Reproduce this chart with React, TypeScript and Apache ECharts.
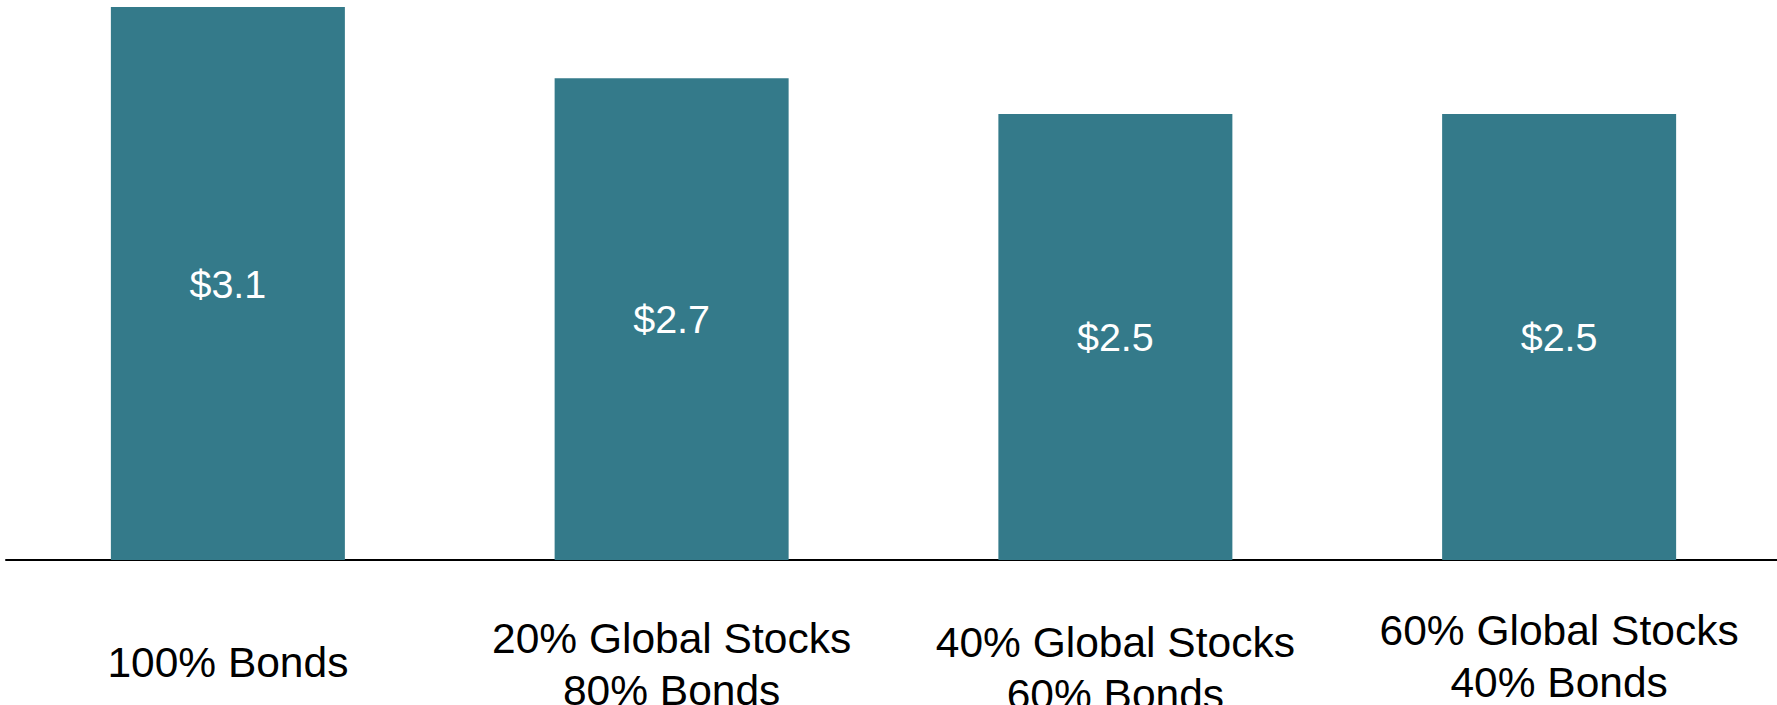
import React, { useEffect, useRef } from "react";
import * as echarts from "echarts";

const categories = [
  "100% Bonds",
  "20% Global Stocks\n80% Bonds",
  "40% Global Stocks\n60% Bonds",
  "60% Global Stocks\n40% Bonds",
];
const values = [3.1, 2.7, 2.5, 2.5];
const labelOffsets = [32, 8, 12, 0];

export default function App() {
  const ref = useRef<HTMLDivElement>(null);
  useEffect(() => {
    if (!ref.current) return;
    const chart = echarts.init(ref.current, undefined, { renderer: "svg" });
    const font = "'Liberation Sans', Arial, sans-serif";
    chart.setOption({
      animation: false,
      backgroundColor: "#ffffff",
      grid: {
        left: 6,
        top: 7,
        width: 1775,
        height: 553,
        containLabel: false,
        outerBoundsMode: "none",
      },
      xAxis: {
        type: "category",
        data: categories.map((c, i) => ({
          value: c,
          textStyle: { padding: [labelOffsets[i], 0, 0, 0] },
        })),
        axisLine: { show: true, lineStyle: { color: "#000000", width: 2 } },
        axisTick: { show: false },
        axisLabel: {
          interval: 0,
          margin: 44,
          color: "#000000",
          fontSize: 42.5,
          lineHeight: 52,
          fontFamily: font,
          align: "center",
        },
      },
      yAxis: {
        type: "value",
        min: 0,
        max: 3.1,
        show: false,
        splitLine: { show: false },
      },
      series: [
        {
          type: "bar",
          data: values,
          barWidth: 234,
          itemStyle: { color: "#347a8a" },
          label: {
            show: true,
            position: "inside",
            color: "#ffffff",
            fontSize: 39.5,
            fontFamily: font,
            formatter: (p: any) => "$" + Number(p.value).toFixed(1),
          },
        },
      ],
    });
    return () => chart.dispose();
  }, []);
  return (
    <div
      ref={ref}
      style={{ position: "fixed", left: 0, top: 0, width: 1777, height: 705 }}
    />
  );
}
